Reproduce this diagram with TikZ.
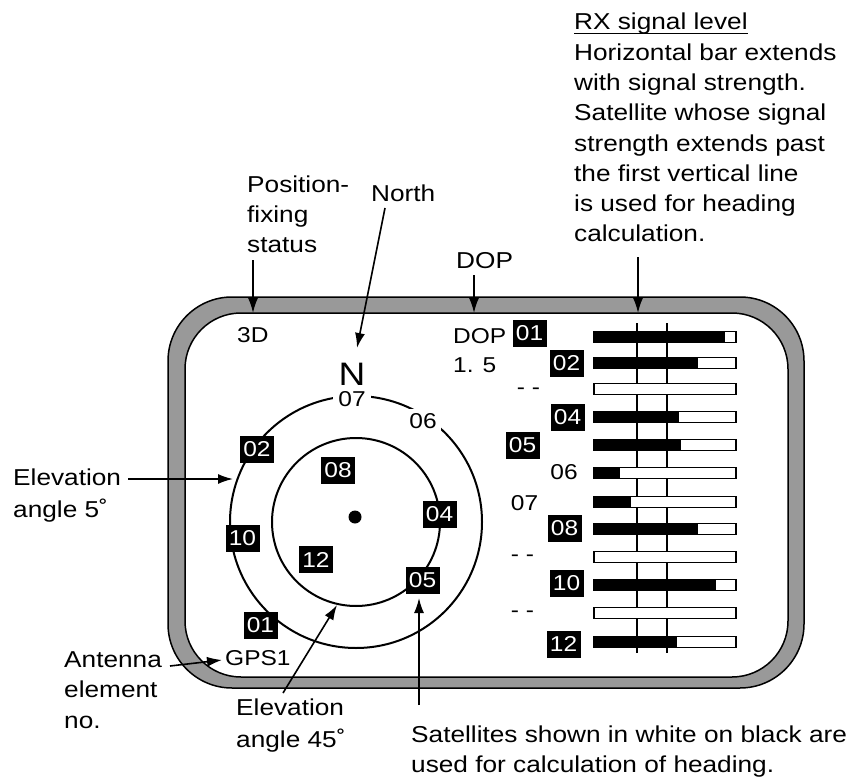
\documentclass[tikz,border=0pt]{standalone}
\usepackage{fontspec}
\setmainfont{Liberation Sans}[FakeStretch=1.14]
\usetikzlibrary{arrows.meta}
\definecolor{bandgray}{RGB}{153,153,153}
\begin{document}
\begin{tikzpicture}[x=1pt,y=-1pt,
  lbl/.style={font=\fontsize{23}{30}\selectfont, inner sep=0pt, align=left, anchor=base west},
  disp/.style={font=\fontsize{21.5}{21.5}\selectfont, inner sep=0pt},
  satbox/.style={disp, fill=black, text=white, minimum width=34pt, minimum height=27pt},
  arr/.style={line width=1.6pt, -{Latex[length=15pt,width=10pt]}},
  ring/.style={line width=2pt},
  sbar/.style={draw=black, line width=1.4pt, fill=white},
]
\useasboundingbox (0,0) rectangle (846,778);
\fill[white] (0,0) rectangle (846,778);
% frame
\draw[line width=1.5pt, fill=bandgray, rounded corners=64pt] (168,297) rectangle (804,688);
\draw[line width=1.5pt, fill=white, rounded corners=56pt] (185,313) rectangle (788,677);
% compass
\draw[ring] (356,522) circle[radius=126];
\draw[ring] (356,522) circle[radius=84];
\fill (355,517) circle[radius=6.5];
\node[disp, anchor=base, font=\fontsize{32.5}{33}\selectfont] (north) at (352,385.5) {N};
\node[disp, fill=white, inner xsep=5pt, inner ysep=0pt] (c07) at (352,399.5) {07};
\node[disp, fill=white, inner sep=4pt] (c06) at (423,421) {06};
\node[satbox] (c02) at (257,449) {02};
\node[satbox] (c08) at (338,470) {08};
\node[satbox] (c04) at (439.5,514.5) {04};
\node[satbox] (c10) at (242.5,538.5) {10};
\node[satbox] (c12) at (316,559.5) {12};
\node[satbox] (c05) at (422.5,580.5) {05};
\node[satbox] (c01) at (260.5,625.5) {01};
\node[disp, anchor=base west] (gps) at (225,665) {GPS1};
\node[disp, anchor=base west] (fix) at (237,342) {3D};
\node[disp, anchor=base west] (dop) at (453,343) {DOP};
\node[disp, anchor=base west] (dopv) at (453,372) {1. 5};
% signal list
\node[satbox] (s01) at (529.5,333.5) {01};
\node[satbox] (s02) at (566.5,363.5) {02};
\node[disp] (s03) at (528.5,391) {- -};
\node[satbox] (s04) at (567.5,417) {04};
\node[satbox] (s05) at (522.5,445) {05};
\node[disp] (s06) at (564,472) {06};
\node[disp] (s07) at (524.5,503) {07};
\node[satbox] (s08) at (564.5,528.5) {08};
\node[disp] (s09) at (522.5,558) {- -};
\node[satbox] (s10) at (566.5,583.5) {10};
\node[disp] (s11) at (522.5,614) {- -};
\node[satbox] (s12) at (563.5,644) {12};
% bars
\draw[line width=2pt] (637,323) -- (637,653);
\draw[line width=2pt] (667,323) -- (667,653);
\foreach \y/\e in {337/725, 363/698, 389/594, 417/679, 445/681, 473/620, 502/631, 529/698, 557/594, 585/716, 613/594, 642/677} {
  \draw[sbar] (594,\y-5.5) rectangle (736,\y+5.5);
  \fill[black] (594,\y-5.5) rectangle (\e,\y+5.5);
  \draw[line width=1.4pt] (594,\y-5.5) rectangle (736,\y+5.5);
}
% labels (multi-line nodes are anchored at the baseline of their last line)
\node[lbl] (rxt) at (574,30) {RX signal level};
\draw[line width=1.3pt] ([yshift=-3.3pt]rxt.base west) -- ([yshift=-3.3pt]rxt.base east);
\node[lbl] (rxd) at (574,241) {Horizontal bar extends\\with signal strength.\\Satellite whose signal\\strength extends past\\the first vertical line\\is used for heading\\calculation.};
\node[lbl] (pfs) at (247,252) {Position-\\fixing\\status};
\node[lbl] (nor) at (371,202) {North};
\node[lbl] (dopl) at (456,268) {DOP};
\node[lbl, font=\fontsize{23}{32}\selectfont] (el5) at (13,517) {Elevation\\angle 5˚};
\node[lbl, font=\fontsize{23}{30.5}\selectfont] (ant) at (64,728) {Antenna\\element\\no.};
\node[lbl, font=\fontsize{23}{32}\selectfont] (el45) at (236,747) {Elevation\\angle 45˚};
\node[lbl] (satl) at (411,772.5) {Satellites shown in white on black are\\used for calculation of heading.};
% arrows
\coordinate (pfsS) at (253,260); \coordinate (pfsT) at (253,313);
\coordinate (norS) at (385,208); \coordinate (norT) at (357,348);
\coordinate (dopS) at (474,275); \coordinate (dopT) at (474,313);
\coordinate (rxS) at (638,257); \coordinate (rxT) at (638,313);
\coordinate (el5S) at (128,479); \coordinate (el5T) at (233,479);
\coordinate (antS) at (170,666); \coordinate (antT) at (222,660);
\coordinate (el45S) at (283,693); \coordinate (el45T) at (337,605);
\coordinate (satS) at (419,705); \coordinate (satT) at (419,598);
\draw[arr] (pfsS) -- (pfsT);
\draw[arr] (norS) -- (norT);
\draw[arr] (dopS) -- (dopT);
\draw[arr] (rxS) -- (rxT);
\draw[arr] (el5S) -- (el5T);
\draw[arr] (antS) -- (antT);
\draw[arr] (el45S) -- (el45T);
\draw[arr] (satS) -- (satT);
\end{tikzpicture}
\end{document}
